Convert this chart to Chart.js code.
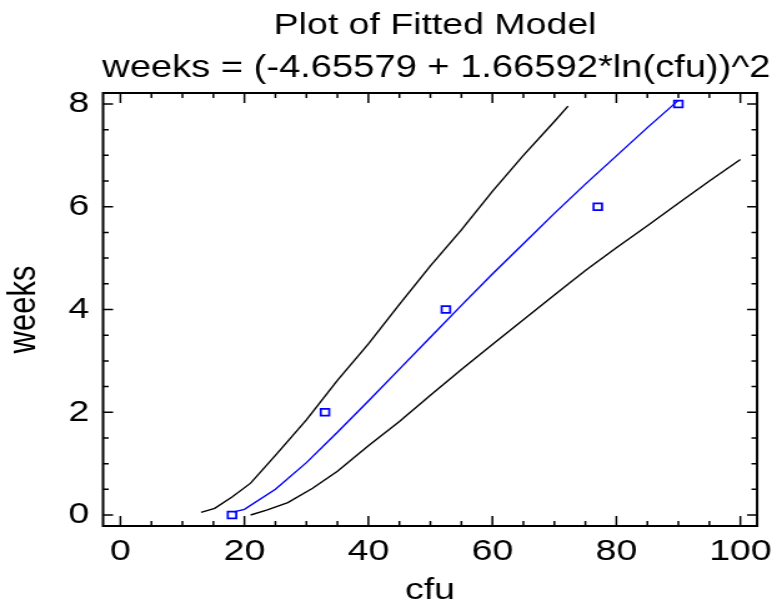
<!DOCTYPE html>
<html>
<head>
<meta charset="utf-8">
<script src="https://cdn.jsdelivr.net/npm/chart.js@4.4.0/dist/chart.umd.min.js"></script>
<style>
  html, body { margin: 0; padding: 0; background: #fff; }
</style>
</head>
<body>
<!-- drawn narrower and stretched, the original picture is stretched sideways -->
<canvas id="chart" width="626" height="606" style="width:782px;height:606px"></canvas>
<script>
// observed points
const pointCfu = [18, 33, 52.5, 77, 90];
const pointWeeks = [0, 2, 4, 6, 8];

// fitted model line
const fitCfu = [18.3, 20, 25, 30, 35, 40, 45, 50, 55, 60, 65, 70, 75, 80, 85, 90];
const fitWeeks = [0.06, 0.11, 0.50, 1.02, 1.61, 2.22, 2.84, 3.46, 4.08, 4.69, 5.28, 5.87, 6.44, 6.99, 7.54, 8.07];

// upper limit
const upperCfu = [13, 15.2, 18, 21, 25, 30, 35, 40, 45, 50, 55, 60, 65, 70, 72.2];
const upperWeeks = [0.05, 0.13, 0.35, 0.62, 1.16, 1.85, 2.62, 3.33, 4.1, 4.85, 5.55, 6.3, 7.0, 7.66, 7.96];

// lower limit
const lowerCfu = [21, 23.7, 27, 31, 35, 40, 45, 50, 55, 60, 65, 70, 75, 80, 85, 90, 95, 100];
const lowerWeeks = [0.0, 0.1, 0.24, 0.52, 0.85, 1.35, 1.82, 2.33, 2.83, 3.32, 3.8, 4.28, 4.76, 5.2, 5.63, 6.07, 6.5, 6.92];

const xTickValues = [0, 20, 40, 60, 80, 100];
const yTickValues = [0, 2, 4, 6, 8];
const xMinorStep = 5;
const yMinorStep = 0.5;

const titleText = 'Plot of Fitted Model';
const subtitleText = 'weeks = (-4.65579 + 1.66592*ln(cfu))^2';
const xTitle = 'cfu';
const yTitle = 'weeks';

const FONT = '"Liberation Sans", Arial, sans-serif';

function toXY(xs, ys) {
    return xs.map((x, i) => ({ x: x, y: ys[i] }));
}

// frame, inward ticks on all four sides, and the two title lines
const framePlugin = {
    id: 'frame',
    afterDraw(chart) {
        const ctx = chart.ctx;
        const area = chart.chartArea;
        const xs = chart.scales.x;
        const ys = chart.scales.y;

        ctx.save();
        ctx.strokeStyle = '#000';
        ctx.lineWidth = 1.5;
        ctx.beginPath();
        for (let v = 0; v <= xs.max; v += xMinorStep) {
            if (v < xs.min) continue;
            const px = xs.getPixelForValue(v);
            const len = xTickValues.includes(v) ? 10 : 5;
            ctx.moveTo(px, area.bottom);
            ctx.lineTo(px, area.bottom - len);
            ctx.moveTo(px, area.top);
            ctx.lineTo(px, area.top + len);
        }
        for (let v = 0; v <= ys.max; v += yMinorStep) {
            const py = ys.getPixelForValue(v);
            const len = yTickValues.includes(v) ? 8 : 4.5;
            ctx.moveTo(area.left, py);
            ctx.lineTo(area.left + len, py);
            ctx.moveTo(area.right, py);
            ctx.lineTo(area.right - len, py);
        }
        ctx.stroke();

        ctx.lineWidth = 2;
        ctx.strokeRect(area.left, area.top, area.right - area.left, area.bottom - area.top);

        const cx = (area.left + area.right) / 2 + 4;
        ctx.fillStyle = '#000';
        ctx.textAlign = 'center';
        ctx.textBaseline = 'alphabetic';
        ctx.font = '30px ' + FONT;
        ctx.fillText(titleText, cx, 34);
        ctx.font = '30.5px ' + FONT;
        ctx.fillText(subtitleText, cx + 1, 77);
        ctx.restore();
    }
};

new Chart(document.getElementById('chart'), {
    type: 'scatter',
    data: {
        datasets: [
            {
                data: toXY(upperCfu, upperWeeks),
                showLine: true,
                borderColor: '#000',
                borderWidth: 1.4,
                pointRadius: 0,
                fill: false
            },
            {
                data: toXY(lowerCfu, lowerWeeks),
                showLine: true,
                borderColor: '#000',
                borderWidth: 1.4,
                pointRadius: 0,
                fill: false
            },
            {
                data: toXY(fitCfu, fitWeeks),
                showLine: true,
                borderColor: '#0000ff',
                borderWidth: 1.4,
                pointRadius: 0,
                fill: false
            },
            {
                data: toXY(pointCfu, pointWeeks),
                showLine: false,
                pointStyle: 'rect',
                pointRadius: 4.8,
                pointBorderWidth: 1.7,
                pointBorderColor: '#0000ff',
                pointBackgroundColor: 'rgba(255,255,255,0)'
            }
        ]
    },
    options: {
        responsive: false,
        devicePixelRatio: 1,
        animation: false,
        layout: { padding: { left: 0, right: 12, top: 93, bottom: 0 } },
        plugins: {
            legend: { display: false },
            tooltip: { enabled: false },
            title: { display: false }
        },
        scales: {
            x: {
                type: 'linear',
                min: -2.8,
                max: 102.7,
                grid: { display: false, drawTicks: false },
                border: { display: false },
                ticks: {
                    stepSize: 20,
                    includeBounds: false,
                    color: '#000',
                    font: { family: FONT, size: 30 },
                    padding: 8,
                    maxRotation: 0,
                    autoSkip: false
                },
                title: {
                    display: true,
                    text: xTitle,
                    color: '#000',
                    font: { family: FONT, size: 30, lineHeight: 1 },
                    padding: { top: 0, bottom: 0 }
                },
                afterFit(scale) { scale.height = 80; }
            },
            y: {
                type: 'linear',
                min: -0.214,
                max: 8.214,
                grid: { display: false, drawTicks: false },
                border: { display: false },
                ticks: {
                    stepSize: 2,
                    includeBounds: false,
                    color: '#000',
                    font: { family: FONT, size: 30 },
                    padding: 11
                },
                title: {
                    display: true,
                    text: yTitle,
                    color: '#000',
                    font: { family: FONT, size: 31, lineHeight: 1 },
                    padding: { top: 4, bottom: 0 }
                },
                afterFit(scale) { scale.width = 82.5; }
            }
        }
    },
    plugins: [framePlugin]
});
</script>
</body>
</html>
